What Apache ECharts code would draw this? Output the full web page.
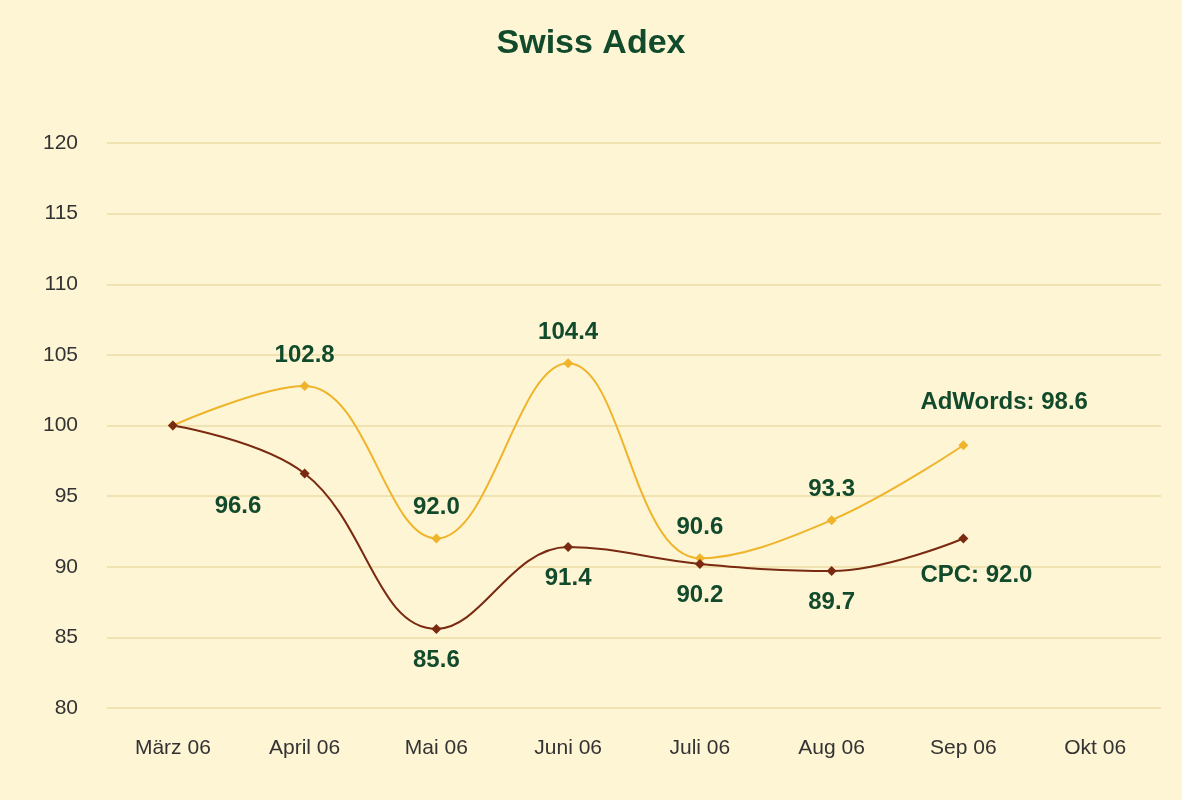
<!DOCTYPE html>
<html><head><meta charset="utf-8">
<script src="https://cdn.jsdelivr.net/npm/echarts@6/dist/echarts.min.js"></script>
<style>html,body{margin:0;padding:0;background:#fdf5d4}#c{width:1182px;height:800px}</style>
</head><body><div id="c"></div>
<script>
const categories=['März 06','April 06','Mai 06','Juni 06','Juli 06','Aug 06','Sep 06','Okt 06'];
const adwords=[100,102.8,92.0,104.4,90.6,93.3,98.6,null];
const cpc=[100,96.6,85.6,91.4,90.2,89.7,92.0,null];
const green='#124a2c';
const fmt=p=>Number(p.value).toFixed(1);
const lbl={show:true,fontSize:24,fontWeight:'bold',color:green,fontFamily:'Liberation Sans',formatter:fmt};
function mk(arr,pos,lastLab,special){
  return arr.map((v,i)=>{
    if(v==null) return null;
    if(i===0) return {value:v,label:{show:false}};
    if(i===arr.length-2) return {value:v,label:Object.assign({},lbl,lastLab)};
    if(special&&special[i]) return {value:v,label:Object.assign({},lbl,special[i])};
    return {value:v,label:Object.assign({},lbl,{position:pos,distance:14})};
  });
}
const ch=echarts.init(document.getElementById('c'));
ch.setOption({
  backgroundColor:'#fdf5d4',
  title:{text:'Swiss Adex',left:'center',top:22,textStyle:{fontSize:34,fontWeight:'bold',color:green,fontFamily:'Liberation Sans'}},
  grid:{left:107,right:21,top:143,bottom:92},
  xAxis:{type:'category',data:categories,boundaryGap:true,axisLine:{show:false},axisTick:{show:false},
    axisLabel:{fontSize:21,color:'#333',margin:30,fontFamily:'Liberation Sans'}},
  yAxis:{type:'value',min:80,max:120,interval:5,axisLine:{show:false},axisTick:{show:false},
    axisLabel:{fontSize:21,color:'#333',margin:29,fontFamily:'Liberation Sans'},
    splitLine:{lineStyle:{color:'#f1e2b2',width:2}}},
  series:[
    {name:'AdWords',type:'line',smooth:0.4,data:mk(adwords,'top',{position:[-38,-50],formatter:p=>'AdWords: '+fmt(p)}),
     lineStyle:{color:'#f0b42a',width:2},itemStyle:{color:'#f0b42a'},symbol:'diamond',symbolSize:10},
    {name:'CPC',type:'line',smooth:0.4,data:mk(cpc,'bottom',{position:[-38,30],formatter:p=>'CPC: '+fmt(p)},{1:{position:[-85,26]}}),
     lineStyle:{color:'#7a2a10',width:2},itemStyle:{color:'#7a2a10'},symbol:'diamond',symbolSize:10}
  ]
});
</script></body></html>
